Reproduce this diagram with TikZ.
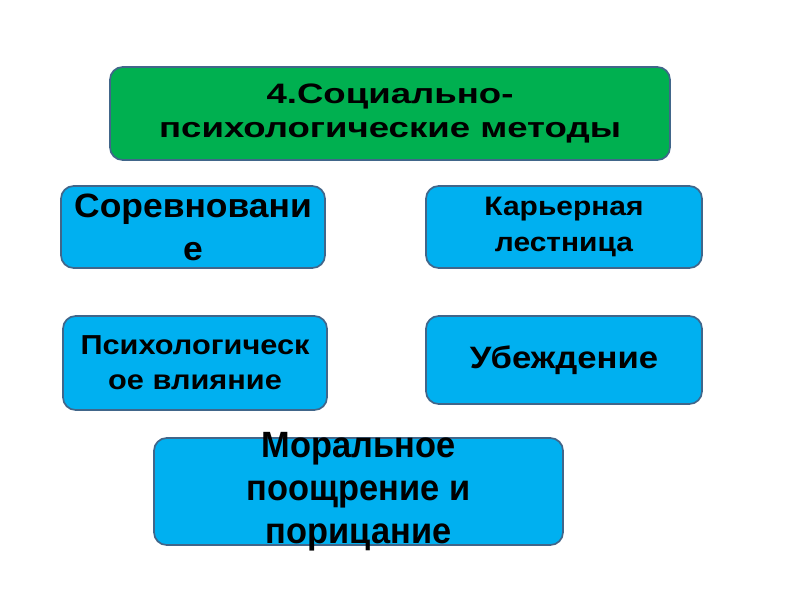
\documentclass[tikz,border=0pt]{standalone}
\usepackage{fontspec}
\setmainfont{Liberation Sans}
\newfontfamily\headfont{Liberation Sans}[FakeStretch=1.3]
\newfontfamily\cellfont{Liberation Sans}[FakeStretch=1.12]
\newfontfamily\contestfont{Liberation Sans}[FakeStretch=1.05]
\newfontfamily\moralfont{Liberation Sans}[FakeStretch=0.94]
\usepackage{tikz}

\definecolor{boxgreen}{HTML}{00B050}
\definecolor{boxblue}{HTML}{00B0F0}
\definecolor{boxedge}{HTML}{41668A}

\begin{document}
\begin{tikzpicture}[x=0.025cm,y=-0.025cm,
    methodbox/.style={draw=boxedge, line width=1.2pt, rounded corners=9pt,
        fill=boxblue, align=center, inner sep=0pt, font=\bfseries},
    headbox/.style={methodbox, fill=boxgreen}]

    % canvas
    \useasboundingbox (0,0) rectangle (800,600);

    % draw header
    \node[headbox, minimum width=560*0.025cm, minimum height=93*0.025cm,
        font=\headfont\bfseries\fontsize{20}{23.6}\selectfont] (head) at (390,113.5)
        {4.Социально-\\психологические методы};

    % draw upper row
    \node[methodbox, minimum width=264*0.025cm, minimum height=82*0.025cm,
        font=\contestfont\bfseries\fontsize{24}{30.5}\selectfont] (contest) at (193,227)
        {Соревновани\\е};
    \node[methodbox, minimum width=276*0.025cm, minimum height=82*0.025cm,
        font=\cellfont\bfseries\fontsize{19}{26}\selectfont] (career) at (564,227)
        {Карьерная\\лестница};

    % draw middle row
    \node[methodbox, minimum width=264*0.025cm, minimum height=94*0.025cm,
        font=\cellfont\bfseries\fontsize{19.5}{24.8}\selectfont] (influence) at (195,363)
        {Психологическ\\ое влияние};
    \node[methodbox, minimum width=276*0.025cm, minimum height=88*0.025cm,
        font=\cellfont\bfseries\fontsize{22}{25}\selectfont] (persuasion) at (564,360)
        {Убеждение};

    % draw bottom box, text runs over its edges
    \node[methodbox, minimum width=409*0.025cm, minimum height=107*0.025cm] (moral) at (358.5,491.5) {};
    \node[align=center, inner sep=0pt, font=\moralfont\bfseries\fontsize{26}{30.5}\selectfont] (moraltext) at (358.5,492)
        {Моральное\\поощрение и\\порицание};

\end{tikzpicture}
\end{document}
